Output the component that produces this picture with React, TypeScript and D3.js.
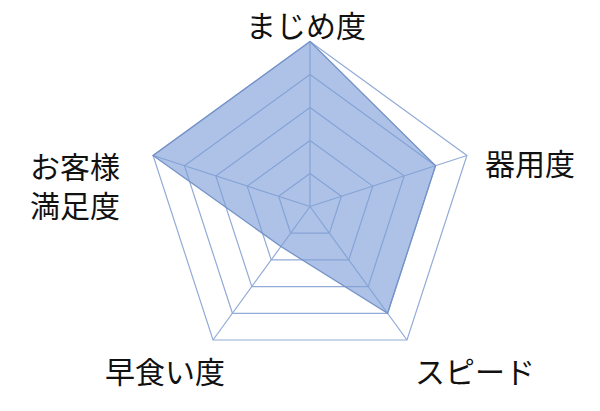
import * as d3 from 'd3';

// axes, clockwise from the top
const AXES = ['まじめ度', '器用度', 'スピード', '早食い度', 'お客様満足度'];
const VALUES = [5, 4, 4, 1.5, 5];
const LEVELS = [1, 2, 3, 4, 5];
const MAX_VALUE = 5;

// label lines (the left label wraps)
const LABEL_LINES = [['まじめ度'], ['器用度'], ['スピード'], ['早食い度'], ['お客様', '満足度']];

const WIDTH = 600;
const HEIGHT = 411;
const CX = 310;
const CY = 206.5;
const RADIUS = 165;

// label placement relative to each outer vertex
const LABEL_LAYOUT = [
  { dx: -4, dy: -18, anchor: 'middle' },
  { dx: 18, dy: 6, anchor: 'start' },
  { dx: 8, dy: 30, anchor: 'start' },
  { dx: 12, dy: 30, anchor: 'end' },
  { dx: -33, dy: 9, anchor: 'end' },
];

export default function App() {
  const angle = d3
    .scaleLinear()
    .domain([0, AXES.length])
    .range([0, 2 * Math.PI]);
  const r = d3.scaleLinear().domain([0, MAX_VALUE]).range([0, RADIUS]);

  const point = (i: number, v: number): [number, number] => [
    CX + r(v) * Math.sin(angle(i)),
    CY - r(v) * Math.cos(angle(i)),
  ];

  const closed = d3.line<[number, number]>().curve(d3.curveLinearClosed);

  return (
    <svg
      width={WIDTH}
      height={HEIGHT}
      style={{ position: 'absolute', left: 0, top: 0, background: '#fff' }}
      fontFamily="'Noto Sans CJK JP', sans-serif"
    >
      {/* grid rings */}
      <g fill="none" stroke="#93abd6" strokeWidth={1.2}>
        {LEVELS.map((lv) => (
          <path key={`ring-${lv}`} d={closed(AXES.map((_, i) => point(i, lv))) ?? ''} />
        ))}
        {AXES.map((_, i) => {
          const [x, y] = point(i, MAX_VALUE);
          return <line key={`spoke-${i}`} x1={CX} y1={CY} x2={x} y2={y} />;
        })}
      </g>

      {/* data */}
      <path
        d={closed(VALUES.map((v, i) => point(i, v))) ?? ''}
        fill="#7d9fd8"
        fillOpacity={0.63}
        stroke="#7593c8"
        strokeWidth={1.3}
      />

      {/* labels */}
      <g fill="#111" fontSize={30}>
        {LABEL_LINES.map((lines, i) => {
          const [x, y] = point(i, MAX_VALUE);
          const lay = LABEL_LAYOUT[i];
          return (
            <text
              key={AXES[i]}
              x={x + lay.dx}
              y={y + lay.dy}
              textAnchor={lay.anchor}
              dominantBaseline="central"
            >
              {lines.map((line, j) => (
                <tspan key={line} x={x + lay.dx} dy={j === 0 ? 0 : 39}>
                  {line}
                </tspan>
              ))}
            </text>
          );
        })}
      </g>
    </svg>
  );
}
